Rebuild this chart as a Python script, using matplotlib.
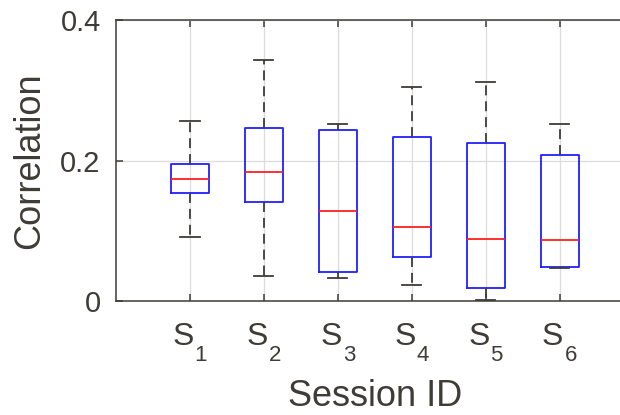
import numpy as np
import matplotlib.pyplot as plt

# box statistics per session
sessions = ['1', '2', '3', '4', '5', '6']
whislo = [0.092, 0.036, 0.033, 0.024, 0.002, 0.047]
q1 = [0.154, 0.142, 0.042, 0.063, 0.019, 0.049]
med = [0.174, 0.184, 0.129, 0.106, 0.089, 0.087]
q3 = [0.195, 0.246, 0.244, 0.234, 0.225, 0.208]
whishi = [0.257, 0.343, 0.253, 0.305, 0.312, 0.253]

plt.rcParams['font.family'] = ['Liberation Sans', 'DejaVu Sans']

gray = '#3f3b37'

fig = plt.figure(figsize=(6.2, 4.15), dpi=100)
ax = fig.add_axes([0.187, 0.2735, 0.835, 0.678])

stats = []
for i in range(len(sessions)):
    stats.append({'whislo': whislo[i], 'q1': q1[i], 'med': med[i],
                  'q3': q3[i], 'whishi': whishi[i], 'fliers': []})

pos = np.arange(1, len(sessions) + 1)
ax.bxp(stats, positions=pos, widths=0.51, showfliers=False,
       boxprops=dict(color='#2020ff', linewidth=1.3),
       medianprops=dict(color='#ff2020', linewidth=1.3),
       whiskerprops=dict(color=gray, linewidth=1.3, linestyle=(0, (5.5, 3.3))),
       capprops=dict(color=gray, linewidth=1.3),
       capwidths=0.26)

ax.set_xlim(0, 7)
ax.set_ylim(0, 0.4)
ax.set_xticks(pos)
ax.set_xticklabels([''] * len(pos))
ax.set_yticks([0, 0.2, 0.4])
ax.set_yticklabels(['0', '0.2', '0.4'])

# S with a lowered subscript under each box
trans = ax.get_xaxis_transform()
for p, s in zip(pos, sessions):
    ax.annotate('S', xy=(p, 0), xycoords=trans, xytext=(-7, -35.5),
                textcoords='offset pixels', ha='center', va='center',
                fontsize=23, color=gray)
    ax.annotate(s, xy=(p, 0), xycoords=trans, xytext=(11, -54),
                textcoords='offset pixels', ha='center', va='center',
                fontsize=16, color=gray)

ax.grid(True, color='#dcdcdc', linewidth=0.9)
ax.set_axisbelow(True)

for s in ax.spines.values():
    s.set_color(gray)
    s.set_linewidth(1.1)

ax.tick_params(direction='in', length=5, width=1.1, color=gray,
               labelcolor=gray, labelsize=21, top=True, right=True, pad=11)

ax.set_xlabel('Session ID', fontsize=26, color=gray)
ax.set_ylabel('Correlation', fontsize=26, color=gray)
ax.xaxis.set_label_coords(0.5, -0.339)
ax.xaxis.label.set_va('center')
ax.yaxis.set_label_coords(-0.166, 0.5)
ax.yaxis.label.set_va('center')

fig.savefig('out.png', dpi=100)
